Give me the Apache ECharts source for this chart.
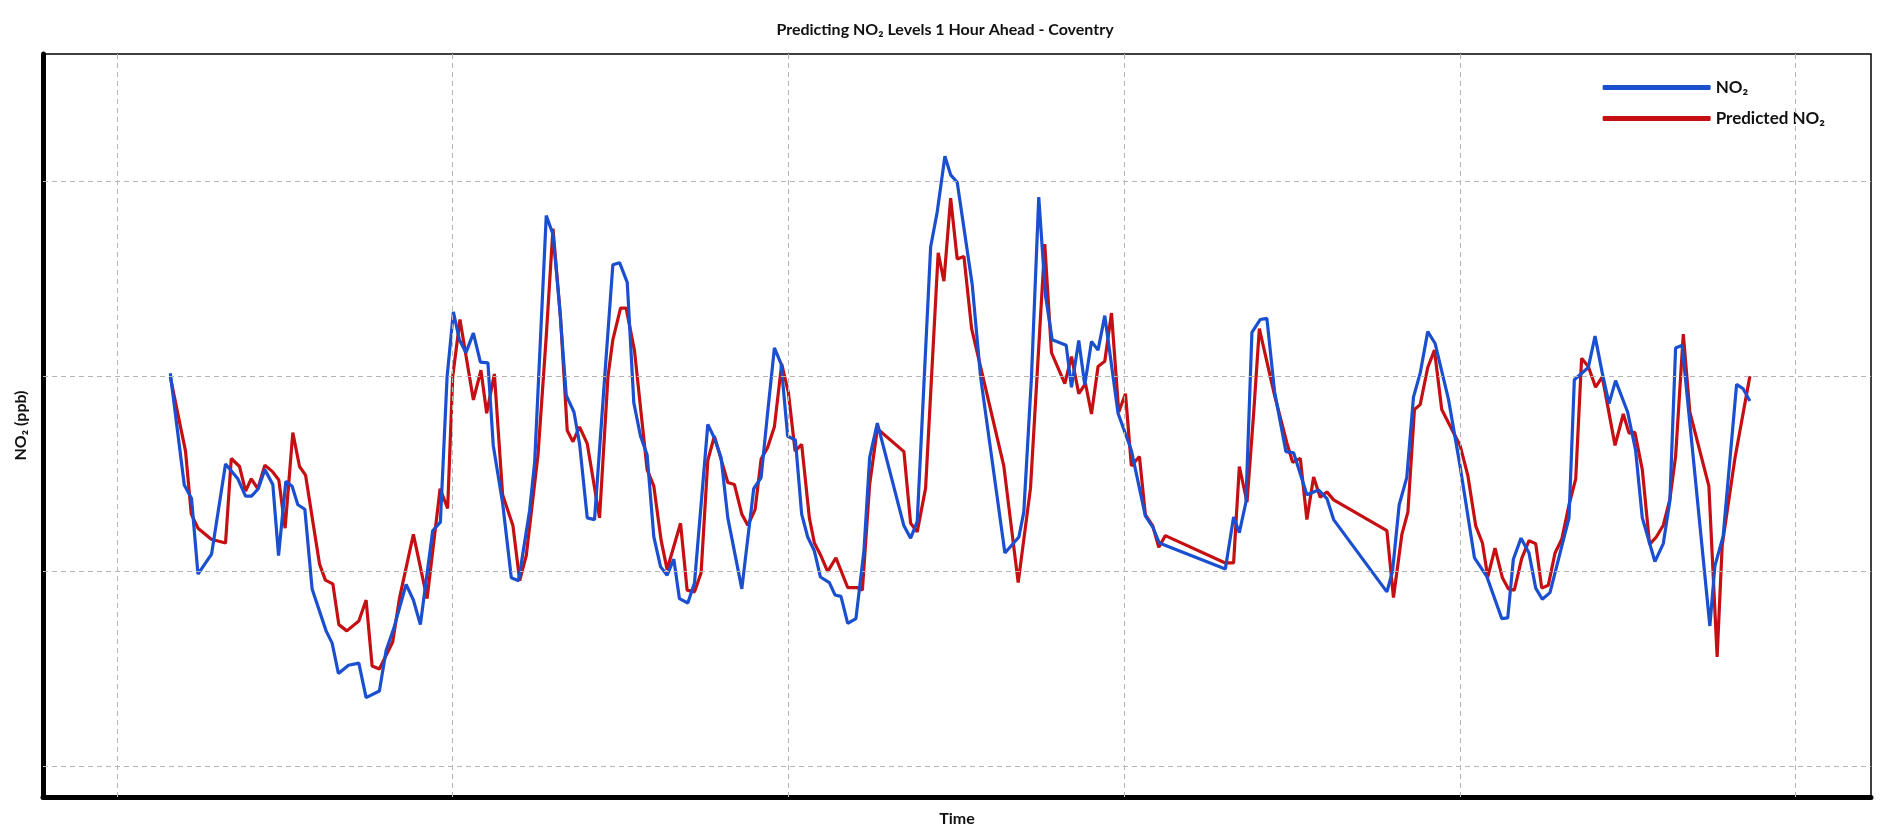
<!DOCTYPE html>
<html>
<head>
<meta charset="utf-8">
<script src="https://cdn.jsdelivr.net/npm/echarts@6/dist/echarts.min.js"></script>
<style>
  html, body { margin: 0; padding: 0; background: #fff; }
  #chart { width: 1890px; height: 833px; }
</style>
</head>
<body>
<div id="chart"></div>
<script>
// hours from start, NO2 in ppb
var obsHours = [3.81,4.81,5.33,5.79,6.76,7.76,8.64,9.19,9.62,10.1,10.57,11.14,11.55,12.07,12.52,12.93,13.43,13.95,14.95,15.38,15.83,16.55,17.29,17.81,18.76,19.24,19.79,20.67,21.19,21.69,22.57,23.12,23.6,24.05,24.48,24.95,25.48,25.98,26.52,26.9,27.57,28.19,28.71,29.5,29.86,30.69,31.17,31.64,32.12,32.67,33.07,33.62,34.14,34.86,35.45,35.93,36.48,36.95,37.43,37.9,38.38,38.86,39.33,39.81,40.21,40.81,41.29,42.24,42.71,43.19,43.67,44.67,45.52,46.05,46.48,47.0,47.48,47.95,48.5,48.95,49.38,49.86,50.29,50.93,51.33,51.76,52.24,52.83,53.4,53.81,54.36,56.26,56.74,57.21,58.17,58.64,59.19,59.6,60.07,61.14,61.74,63.48,64.48,64.83,65.38,65.9,66.38,66.86,67.86,68.24,68.76,69.19,69.67,70.14,70.62,71.57,72.52,73.52,74.05,74.52,79.24,79.83,80.24,80.71,81.14,81.74,82.21,82.76,83.57,84.12,85.07,85.9,86.5,86.98,90.79,91.19,91.67,92.21,92.69,93.17,93.71,94.24,95.19,96.02,97.05,97.93,99.0,99.43,99.83,100.38,100.95,101.43,101.9,102.45,103.81,104.19,105.19,105.67,106.19,106.67,107.14,108.0,108.57,109.05,109.95,110.55,111.02,111.43,111.9,113.88,114.24,114.83,115.79,116.26,116.74];
var obsValues = [20.15,14.42,13.73,9.86,10.88,15.5,14.74,13.85,13.85,14.23,15.21,14.45,10.81,14.61,14.36,13.41,13.18,9.1,6.95,6.32,4.77,5.19,5.3,3.53,3.87,5.94,7.08,9.33,8.53,7.27,12.08,12.52,19.96,23.29,21.86,21.2,22.2,20.72,20.68,16.45,13.5,9.67,9.52,13.12,15.59,28.22,27.27,23.57,19.01,18.16,16.54,12.74,12.65,19.87,25.7,25.81,24.8,18.63,16.92,15.97,11.76,10.24,9.8,10.62,8.6,8.38,9.42,17.53,16.83,15.82,12.74,9.1,14.23,14.8,17.87,21.44,20.63,16.92,16.73,12.93,11.76,11.04,9.71,9.42,8.79,8.72,7.33,7.58,11.04,15.82,17.59,12.33,11.7,12.55,26.61,28.41,31.26,30.31,29.93,24.71,19.96,10.94,11.76,13.03,19.96,29.17,24.14,21.86,21.58,19.43,21.82,19.54,21.77,21.33,23.1,18.1,16.2,12.84,12.27,11.45,10.12,12.78,11.98,13.54,22.24,22.9,22.96,19.2,16.13,16.07,13.92,14.17,13.73,12.65,8.95,9.99,13.41,14.8,18.92,20.15,22.28,21.67,18.82,15.4,10.69,9.74,7.58,7.62,10.62,11.7,10.94,9.14,8.57,8.91,12.74,19.81,20.44,22.05,20.15,18.59,19.77,18.16,16.2,12.74,10.5,11.42,13.6,21.44,21.58,7.2,10.28,11.8,19.58,19.35,18.73];

var predHours = [3.81,4.9,5.31,5.79,6.74,7.76,8.17,8.76,9.19,9.6,10.07,10.57,11.1,11.57,12.02,12.57,13.05,13.48,14.0,14.48,14.9,15.43,15.86,16.43,17.29,17.81,18.24,18.76,19.71,20.19,21.19,22.17,23.1,23.64,24.0,24.52,25.48,26.02,26.43,26.98,27.57,28.31,28.79,29.26,30.1,30.69,31.17,31.71,32.19,32.6,33.07,33.62,34.5,35.1,35.45,36.0,36.4,37.0,37.9,38.38,38.9,39.33,40.29,40.76,41.29,41.76,42.24,42.71,43.67,44.14,44.67,45.1,45.62,46.05,46.52,47.0,47.52,48.0,48.48,48.95,49.5,49.86,50.29,50.81,51.4,52.24,52.9,53.29,53.81,54.36,56.26,56.74,57.21,57.81,58.71,59.12,59.6,60.07,60.55,61.1,63.4,64.43,65.31,66.33,66.81,67.76,68.24,68.76,69.24,69.67,70.14,70.62,71.1,71.62,72.1,72.52,73.1,73.52,74.05,74.48,74.95,79.24,79.83,80.24,80.79,81.26,81.67,82.76,83.64,84.05,84.6,85.07,85.55,86.02,86.5,86.98,90.79,91.26,91.86,92.29,92.76,93.17,93.71,94.19,94.71,96.02,96.57,97.14,97.62,98.0,98.52,99.05,99.48,99.9,100.43,100.95,101.43,101.86,102.33,102.81,103.29,103.81,104.29,104.71,105.19,105.71,106.19,107.1,107.69,108.1,108.52,109.05,109.57,110.05,110.55,111.02,111.43,111.98,112.45,113.81,114.4,114.76,115.67,116.74];
var predValues = [19.96,16.16,12.93,12.21,11.64,11.45,15.78,15.37,14.11,14.74,14.23,15.44,15.12,14.68,12.21,17.11,15.37,14.93,12.55,10.37,9.55,9.36,7.27,6.95,7.46,8.53,5.15,5.0,6.38,8.6,11.89,8.6,14.23,13.22,19.96,22.9,18.78,20.3,18.1,20.11,13.92,12.33,9.52,10.81,15.97,22.05,27.56,23.0,17.21,16.64,17.4,16.54,12.74,19.96,21.86,23.48,23.48,21.29,15.21,14.36,11.6,10.09,12.46,9.04,8.95,9.93,15.69,16.92,14.55,14.45,12.93,12.36,13.16,15.75,16.35,17.4,20.63,19.16,16.16,16.5,12.74,11.45,10.85,9.99,10.69,9.17,9.17,9.04,14.45,17.3,16.13,12.46,12.02,14.26,26.32,24.86,29.12,26.0,26.13,22.43,15.4,9.42,14.26,26.76,21.2,19.62,21.0,19.1,19.62,18.06,20.49,20.76,23.23,18.16,19.1,15.4,15.88,12.9,12.33,11.23,11.83,10.43,10.43,15.37,13.54,18.06,22.43,19.01,16.58,15.59,15.78,12.65,14.83,13.79,14.07,13.66,12.08,8.66,11.89,13.03,18.29,18.54,20.44,21.33,18.29,16.45,14.93,12.33,11.45,9.71,11.19,9.67,9.1,9.04,10.66,11.57,11.42,9.14,9.29,10.94,11.64,13.41,14.74,20.91,20.49,19.43,19.96,16.45,18.06,17.08,17.12,15.21,11.38,11.76,12.36,13.69,15.88,22.15,18.16,14.36,5.62,11.32,15.78,20.0];

var gridValues = [0, 10, 20, 30];
var gridHours = [0, 24, 48, 72, 96, 120];

function pairs(xs, ys) {
  return xs.map(function (x, i) { return [x, ys[i]]; });
}

var chart = echarts.init(document.getElementById('chart'));

var gridLines = gridValues.map(function (v) { return { yAxis: v }; })
  .concat(gridHours.map(function (h) { return { xAxis: h }; }));

var option = {
  animation: false,
  textStyle: { fontFamily: 'Lato' },
  title: {
    text: 'Predicting NO₂ Levels 1 Hour Ahead - Coventry',
    left: 'center',
    top: 17,
    textStyle: { fontSize: 16, fontWeight: 'bold', color: '#111' }
  },
  legend: {
    right: 60,
    top: 74,
    orient: 'vertical',
    icon: 'roundRect',
    itemWidth: 108,
    itemHeight: 5,
    itemGap: 14,
    textStyle: { fontSize: 17, fontWeight: 'bold', color: '#111' },
    data: ['NO₂', 'Predicted NO₂']
  },
  grid: {
    left: 43, right: 19, top: 54, bottom: 36,
    show: true, borderColor: '#000', borderWidth: 1.5
  },
  xAxis: {
    type: 'value',
    min: -5.29,
    max: 125.4,
    name: 'Time',
    nameLocation: 'middle',
    nameGap: 14,
    nameTextStyle: { fontSize: 16, fontWeight: 'bold', color: '#111' },
    axisLine: { show: true, onZero: false, lineStyle: { color: '#000', width: 5 } },
    axisTick: { show: false },
    axisLabel: { show: false },
    splitLine: { show: false }
  },
  yAxis: {
    type: 'value',
    min: -1.56,
    max: 36.5,
    name: 'NO₂ (ppb)',
    nameLocation: 'middle',
    nameGap: 14,
    nameTextStyle: { fontSize: 16, fontWeight: 'bold', color: '#111' },
    axisLine: { show: true, onZero: false, lineStyle: { color: '#000', width: 5 } },
    axisTick: { show: false },
    axisLabel: { show: false },
    splitLine: { show: false }
  },
  series: [
    {
      name: 'NO₂',
      type: 'line',
      data: pairs(obsHours, obsValues),
      showSymbol: false,
      color: '#1a4fd0',
      lineStyle: { width: 3.2, color: '#1a4fd0' },
      z: 3,
      markLine: {
        silent: true,
        symbol: 'none',
        label: { show: false },
        lineStyle: { type: [5, 4], color: '#b5b5b5', width: 1 },
        data: gridLines
      }
    },
    {
      name: 'Predicted NO₂',
      type: 'line',
      data: pairs(predHours, predValues),
      showSymbol: false,
      color: '#c50f12',
      lineStyle: { width: 3.2, color: '#c50f12' },
      z: 2
    }
  ]
};

chart.setOption(option);
</script>
</body>
</html>
